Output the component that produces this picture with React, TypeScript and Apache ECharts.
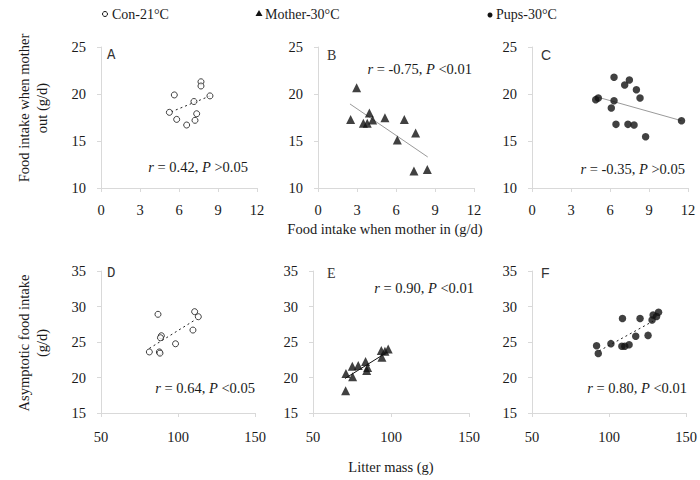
import React, { useEffect, useRef } from "react";
import * as echarts from "echarts";

// ---- data ----
// Row 1: food intake when mother out (g/d) vs food intake when mother in (g/d)
const conInX = [7.69, 7.69, 5.64, 8.38, 7.15, 5.26, 7.36, 5.82, 7.23, 6.59];
const conOutY = [21.3, 20.85, 19.9, 19.8, 19.2, 18.05, 17.9, 17.3, 17.2, 16.7];
const motherInX = [2.97, 2.51, 3.95, 3.49, 3.79, 4.2, 5.15, 6.64, 7.51, 6.1, 7.38, 8.41];
const motherOutY = [20.67, 17.3, 17.98, 16.88, 16.88, 17.23, 17.48, 17.3, 15.85, 15.1, 11.8, 11.98];
const pupsInX = [6.31, 7.49, 7.13, 8.03, 4.9, 5.1, 6.31, 8.31, 6.1, 6.46, 7.38, 7.85, 8.74, 11.5];
const pupsOutY = [21.78, 21.49, 20.96, 20.46, 19.4, 19.57, 19.29, 19.57, 18.51, 16.77, 16.77, 16.7, 15.46, 17.16];

// Row 2: asymptotic food intake (g/d) vs litter mass (g)
const conMass = [87.0, 110.8, 113.2, 109.7, 89.2, 88.6, 98.4, 81.4, 87.9, 88.3];
const conAsym = [28.9, 29.27, 28.56, 26.68, 25.88, 25.6, 24.75, 23.6, 23.6, 23.43];
const motherMass = [70.9, 71.1, 75.4, 75.2, 79, 83.7, 85, 84.4, 93.8, 94.2, 96.1, 98.2];
const motherAsym = [18.14, 20.56, 20.1, 21.57, 21.7, 22.26, 21.4, 21.0, 23.8, 22.86, 23.7, 24.0];
const pupsMass = [91.9, 93, 101.2, 108.7, 108.3, 110.2, 113, 117.3, 120.1, 125.3, 127.9, 128.6, 130.8, 132.1];
const pupsAsym = [24.48, 23.37, 24.77, 28.3, 24.4, 24.4, 24.62, 25.8, 28.3, 25.93, 28.1, 28.8, 28.58, 29.18];

// Trend-line end points (data units)
const trendA = [[5.4, 18.1], [8.4, 19.8]];
const trendB = [[2.46, 18.94], [8.44, 13.3]];
const trendC = [[5.1, 19.65], [11.5, 17.16]];
const trendD = [[81.4, 24.1], [111, 28.1]];
const trendE = [[70.5, 19.86], [97.5, 23.56]];
const trendF = [[93.6, 23.75], [128.5, 27.93]];

// Statistics
const panelLetters = ["A", "B", "C", "D", "E", "F"];
const rValues = ["0.42", "-0.75", "-0.35", "0.64", "0.90", "0.80"];
const pValues = [">0.05", "<0.01", ">0.05", "<0.05", "<0.01", "<0.01"];

// Axes
const row1XTicks = { min: 0, max: 12, interval: 3 };
const row1YTicks = { min: 10, max: 25, interval: 5 };
const row2XTicks = { min: 50, max: 150, interval: 50 };
const row2YTicks = { min: 15, max: 35, interval: 5 };

const legendNames = ["Con-21°C", "Mother-30°C", "Pups-30°C"];
const yTitle1 = "Food intake when mother\nout (g/d)";
const yTitle2 = "Asymptotic food intake\n(g/d)";
const xTitle1 = "Food intake when mother in (g/d)";
const xTitle2 = "Litter mass (g)";

const zip = (xs: number[], ys: number[]) => xs.map((x, i) => [x, ys[i]]);

const SERIF = "'Liberation Serif', 'Times New Roman', serif";
const TXT = "#1a1a1a";
const AXIS = "#d9d9d9";

export default function App() {
  const ref = useRef<HTMLDivElement>(null);
  useEffect(() => {
    document.body.style.margin = "0";
    const chart = echarts.init(ref.current!, null, { renderer: "svg" });

    const grids = [
      { left: 101, top: 47, width: 156, height: 141 },
      { left: 318, top: 47, width: 156, height: 141 },
      { left: 532, top: 47, width: 156, height: 141 },
      { left: 101, top: 271, width: 154, height: 142 },
      { left: 313, top: 271, width: 156, height: 142 },
      { left: 532, top: 271, width: 155, height: 142 },
    ];

    const axisCommon = {
      axisLine: { show: true, lineStyle: { color: AXIS, width: 1 } },
      axisTick: { show: true, inside: false, length: 4, lineStyle: { color: AXIS } },
      splitLine: { show: false },
      axisLabel: { color: TXT, fontFamily: SERIF, fontSize: 14.5 },
    };

    const xAxis = grids.map((_, i) => ({
      type: "value",
      gridIndex: i,
      ...(i < 3 ? row1XTicks : row2XTicks),
      ...axisCommon,
      axisLabel: { ...axisCommon.axisLabel, margin: i < 3 ? 14 : 16 },
    }));
    const yAxis = grids.map((_, i) => ({
      type: "value",
      gridIndex: i,
      ...(i < 3 ? row1YTicks : row2YTicks),
      ...axisCommon,
      axisLabel: { ...axisCommon.axisLabel, margin: 15 },
    }));

    const pointSets = [
      zip(conInX, conOutY),
      zip(motherInX, motherOutY),
      zip(pupsInX, pupsOutY),
      zip(conMass, conAsym),
      zip(motherMass, motherAsym),
      zip(pupsMass, pupsAsym),
    ];
    const trends = [trendA, trendB, trendC, trendD, trendE, trendF];
    const trendStyles = [
      { color: "#222", type: [2, 3], width: 1 },
      { color: "#9a9a9a", type: "solid", width: 1 },
      { color: "#9a9a9a", type: "solid", width: 1 },
      { color: "#222", type: [2, 3], width: 1 },
      { color: "#111", type: "solid", width: 1 },
      { color: "#222", type: [2, 3], width: 1 },
    ];
    const symbolStyle = (k: number) => {
      const g = k % 3;
      if (g === 0)
        return { symbol: "circle", symbolSize: 6, itemStyle: { color: "#fff", borderColor: "#111", borderWidth: 1 } };
      if (g === 1) return { symbol: "triangle", symbolSize: 9, itemStyle: { color: "#111" } };
      return { symbol: "circle", symbolSize: 7.5, itemStyle: { color: "#111" } };
    };

    const series: any[] = [];
    trends.forEach((t, i) => {
      series.push({
        type: "line",
        xAxisIndex: i,
        yAxisIndex: i,
        data: t,
        symbol: "none",
        lineStyle: trendStyles[i],
        silent: true,
        z: 1,
      });
    });
    pointSets.forEach((pts, i) => {
      series.push({
        type: "scatter",
        xAxisIndex: i,
        yAxisIndex: i,
        data: pts,
        ...symbolStyle(i),
        z: 3,
      });
    });

    const statPos = [
      { x: 248, y: 167 },
      { x: 472, y: 69 },
      { x: 685, y: 169 },
      { x: 255, y: 388 },
      { x: 474, y: 288 },
      { x: 687, y: 388 },
    ];
    const letterPos = [
      { x: 107, y: 55, f: "'Liberation Mono', monospace" },
      { x: 327, y: 55, f: SERIF },
      { x: 541, y: 55, f: "'Liberation Sans', sans-serif" },
      { x: 107, y: 273, f: "'Liberation Mono', monospace" },
      { x: 327, y: 273, f: SERIF },
      { x: 541, y: 273, f: "'Liberation Sans', sans-serif" },
    ];

    const graphic: any[] = [];
    statPos.forEach((p, i) => {
      graphic.push({
        type: "text",
        x: p.x,
        y: p.y,
        style: {
          text: `{i|r} = ${rValues[i]}, {i|P} ${pValues[i]}`,
          fill: TXT,
          fontFamily: SERIF,
          fontSize: 14.5,
          align: "right",
          verticalAlign: "middle",
          rich: {
            i: { fontStyle: "italic", fontFamily: SERIF, fontSize: 14.5, fill: TXT },
          },
        },
      });
    });
    letterPos.forEach((p, i) => {
      graphic.push({
        type: "text",
        x: p.x,
        y: p.y,
        style: {
          text: panelLetters[i],
          fill: "#333",
          fontFamily: p.f,
          fontSize: 14,
          align: "left",
          verticalAlign: "middle",
        },
      });
    });
    // legend
    graphic.push(
      { type: "circle", shape: { cx: 105, cy: 14, r: 2.5 }, style: { fill: "#fff", stroke: "#111", lineWidth: 1 } },
      {
        type: "text",
        x: 112,
        y: 14,
        style: { text: legendNames[0], fill: TXT, fontFamily: SERIF, fontSize: 14, align: "left", verticalAlign: "middle" },
      },
      { type: "polygon", shape: { points: [[259, 10], [262.5, 16], [255.5, 16]] }, style: { fill: "#111" } },
      {
        type: "text",
        x: 265,
        y: 14,
        style: { text: legendNames[1], fill: TXT, fontFamily: SERIF, fontSize: 14, align: "left", verticalAlign: "middle" },
      },
      { type: "circle", shape: { cx: 490, cy: 15, r: 2.5 }, style: { fill: "#111" } },
      {
        type: "text",
        x: 496,
        y: 14,
        style: { text: legendNames[2], fill: TXT, fontFamily: SERIF, fontSize: 14, align: "left", verticalAlign: "middle" },
      }
    );
    // axis titles
    graphic.push(
      {
        type: "text",
        x: 33,
        y: 108,
        rotation: Math.PI / 2,
        style: {
          text: yTitle1,
          fill: TXT,
          fontFamily: SERIF,
          fontSize: 14.5,
          lineHeight: 18,
          align: "center",
          verticalAlign: "middle",
        },
      },
      {
        type: "text",
        x: 33,
        y: 343,
        rotation: Math.PI / 2,
        style: {
          text: yTitle2,
          fill: TXT,
          fontFamily: SERIF,
          fontSize: 14.5,
          lineHeight: 18,
          align: "center",
          verticalAlign: "middle",
        },
      },
      {
        type: "text",
        x: 385,
        y: 229,
        style: { text: xTitle1, fill: TXT, fontFamily: SERIF, fontSize: 14.5, align: "center", verticalAlign: "middle" },
      },
      {
        type: "text",
        x: 391,
        y: 467,
        style: { text: xTitle2, fill: TXT, fontFamily: SERIF, fontSize: 14.5, align: "center", verticalAlign: "middle" },
      }
    );

    chart.setOption({
      animation: false,
      backgroundColor: "#fff",
      grid: grids.map((g) => ({ ...g, containLabel: false })),
      xAxis,
      yAxis,
      series,
      graphic,
    });
    return () => chart.dispose();
  }, []);
  return <div ref={ref} style={{ width: 700, height: 480 }} />;
}
